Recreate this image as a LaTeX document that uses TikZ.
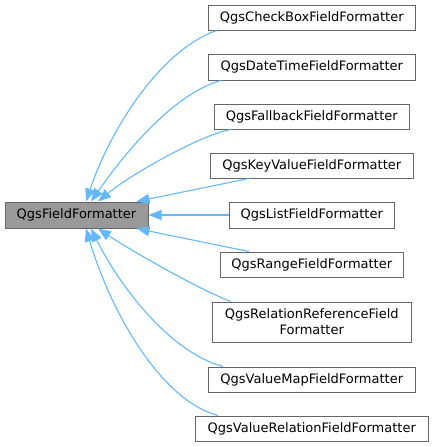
\documentclass[tikz,border=0pt]{standalone}
\usepackage{fontspec}
\setmainfont{DejaVu Sans}
\usetikzlibrary{arrows.meta}
\definecolor{edgeblue}{HTML}{63B8FF}
\definecolor{boxgray}{HTML}{666666}
\definecolor{basefill}{HTML}{999999}
\tikzset{cls/.style={draw=boxgray, fill=white, line width=1pt, inner sep=0pt,
    minimum height=25pt, align=center, font=\fontsize{13}{16}\selectfont}}

\begin{document}
\begin{tikzpicture}[x=1pt, y=-1pt, >={Triangle[length=13pt,width=10pt]}]
\useasboundingbox (0,0) rectangle (433,447);
\node [cls, fill=basefill, minimum width=143pt, minimum height=26pt, name=base] at (76.5,215) {QgsFieldFormatter};

\node [cls, minimum width=207pt, name=checkbox] at (311.8,17.5) {QgsCheckBoxFieldFormatter};
\node [cls, minimum width=207pt, minimum height=26pt, name=datetime] at (311.8,67) {QgsDateTimeFieldFormatter};
\node [cls, minimum width=195pt, name=fallback] at (311.8,116.5) {QgsFallbackFieldFormatter};
\node [cls, minimum width=203pt, name=keyvalue] at (311.8,165.5) {QgsKeyValueFieldFormatter};
\node [cls, minimum width=165pt, minimum height=26pt, name=list] at (311.8,215) {QgsListFieldFormatter};
\node [cls, minimum width=183pt, name=range] at (311.8,264.5) {QgsRangeFieldFormatter};
\node [cls, minimum width=199pt, minimum height=40pt, name=relref] at (311.8,322) {QgsRelationReferenceField\\Formatter};
\node [cls, minimum width=207pt, name=valuemap] at (311.8,379.5) {QgsValueMapFieldFormatter};
\node [cls, minimum width=233pt, name=valuerel] at (311.8,428.5) {QgsValueRelationFieldFormatter};

\begin{scope}[edgeblue, line width=1.1pt]
  \draw [->] ([xshift=9pt]checkbox.south west) .. controls (160,50) and (110,130) .. ([xshift=9.5pt]base.north);
  \draw [->] ([xshift=13pt]datetime.south west) .. controls (170,95) and (120,160) .. ([xshift=14.5pt]base.north);
  \draw [->] ([xshift=17pt]fallback.south west) .. controls (200,135) and (130,175) .. ([xshift=21.5pt]base.north);
  \draw [->] ([xshift=39pt]keyvalue.south west) -- ([xshift=-12pt]base.north east);
  \draw [->] (list.west) -- (base.east);
  \draw [->] ([xshift=29pt]range.north west) -- ([xshift=-12pt]base.south east);
  \draw [->] ([xshift=19pt]relref.north west) .. controls (200,290) and (130,250) .. ([xshift=21.5pt]base.south);
  \draw [->] ([xshift=15pt]valuemap.north west) .. controls (170,352) and (120,287) .. ([xshift=14.5pt]base.south);
  \draw [->] ([xshift=23pt]valuerel.north west) .. controls (160,400) and (110,310) .. ([xshift=9.5pt]base.south);
\end{scope}
\end{tikzpicture}
\end{document}
